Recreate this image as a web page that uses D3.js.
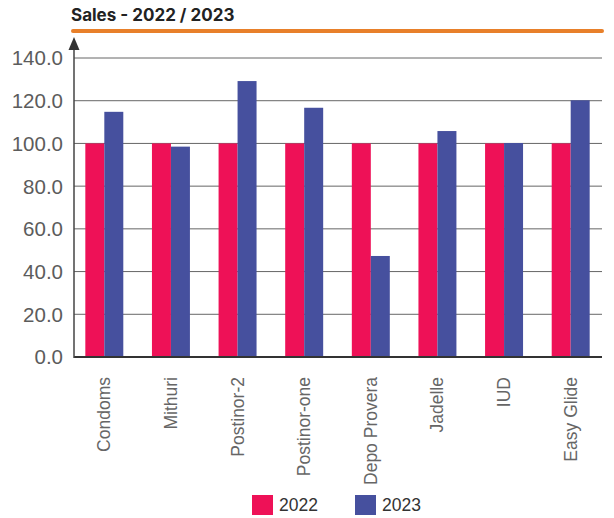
<!DOCTYPE html>
<html>
<head>
<meta charset="utf-8">
<script src="https://cdn.jsdelivr.net/npm/d3@7"></script>
<style>
  body { margin: 0; background: #fff; font-family: "Liberation Sans", Arial, sans-serif; }
</style>
</head>
<body>
<div id="chart"></div>
<script>
const categories = ["Condoms", "Mithuri", "Postinor-2", "Postinor-one", "Depo Provera", "Jadelle", "IUD", "Easy Glide"];
const seriesNames = ["2022", "2023"];
const sales2022 = [100, 100, 100, 100, 100, 100, 100, 100];
const sales2023 = [114.8, 98.5, 129.2, 116.7, 47.3, 105.8, 100.2, 120.2];
const yTicks = [0, 20, 40, 60, 80, 100, 120, 140];

const width = 614, height = 518;
const margin = {top: 58, right: 12, bottom: 161, left: 74};
const colors = {"2022": "#ee1157", "2023": "#46509e"};

const svg = d3.select("#chart").append("svg")
    .attr("width", width).attr("height", height);

const x = d3.scaleBand()
    .domain(categories)
    .range([margin.left, 601])
    .paddingInner(0.43)
    .paddingOuter(0.17);

const xSub = d3.scaleBand()
    .domain(seriesNames)
    .range([0, x.bandwidth()]);

const y = d3.scaleLinear()
    .domain([0, 140])
    .range([height - margin.bottom, margin.top]);

// title + orange rule
svg.append("text")
    .attr("x", 71).attr("y", 21)
    .attr("font-family", "Inter, sans-serif")
    .attr("font-size", 17).attr("font-weight", 700)
    .attr("fill", "#222")
    .text("Sales - 2022 / 2023");

svg.append("line")
    .attr("x1", 73).attr("x2", 602)
    .attr("y1", 31).attr("y2", 31)
    .attr("stroke", "#e8802a").attr("stroke-width", 4)
    .attr("stroke-linecap", "round");

// grid lines
svg.append("g")
    .selectAll("line")
    .data(yTicks.filter(d => d > 0))
    .join("line")
    .attr("x1", margin.left).attr("x2", width - margin.right)
    .attr("y1", d => y(d)).attr("y2", d => y(d))
    .attr("stroke", "#666").attr("stroke-width", 1);

// y tick labels
svg.append("g")
    .selectAll("text")
    .data(yTicks)
    .join("text")
    .attr("x", 63)
    .attr("y", d => y(d))
    .attr("dy", "0.36em")
    .attr("text-anchor", "end")
    .attr("font-size", 20.5)
    .attr("fill", "#5c5c5c")
    .text(d => d.toFixed(1));

// bars
const rows = categories.map((c, i) => ({cat: c, values: [
    {key: "2022", value: sales2022[i]},
    {key: "2023", value: sales2023[i]}
]}));

svg.append("g")
    .selectAll("g")
    .data(rows)
    .join("g")
    .attr("transform", d => `translate(${x(d.cat)},0)`)
    .selectAll("rect")
    .data(d => d.values)
    .join("rect")
    .attr("x", d => xSub(d.key))
    .attr("width", xSub.bandwidth())
    .attr("y", d => y(d.value))
    .attr("height", d => y(0) - y(d.value))
    .attr("fill", d => colors[d.key]);

// baseline
svg.append("line")
    .attr("x1", margin.left).attr("x2", width - margin.right)
    .attr("y1", y(0)).attr("y2", y(0))
    .attr("stroke", "#333").attr("stroke-width", 2);

// y axis line with arrow
svg.append("line")
    .attr("x1", margin.left).attr("x2", margin.left)
    .attr("y1", y(0) + 1).attr("y2", 48)
    .attr("stroke", "#444").attr("stroke-width", 1.5);
svg.append("path")
    .attr("d", `M${margin.left},37 L${margin.left - 5.5},50 L${margin.left + 5.5},50 Z`)
    .attr("fill", "#333");

// category labels
svg.append("g")
    .selectAll("text")
    .data(categories)
    .join("text")
    .attr("transform", d => `translate(${x(d) + x.bandwidth() / 2 + 6},${y(0) + 20}) rotate(-90)`)
    .attr("text-anchor", "end")
    .attr("font-size", 17.5)
    .attr("fill", "#666")
    .text(d => d);

// legend
const legend = svg.append("g")
    .selectAll("g")
    .data(seriesNames)
    .join("g")
    .attr("transform", (d, i) => `translate(${252 + i * 103},495)`);
legend.append("rect")
    .attr("width", 21).attr("height", 20)
    .attr("fill", d => colors[d]);
legend.append("text")
    .attr("x", 27).attr("y", 10)
    .attr("dy", "0.36em")
    .attr("font-size", 17.5)
    .attr("fill", "#333")
    .text(d => d);
</script>
</body>
</html>
